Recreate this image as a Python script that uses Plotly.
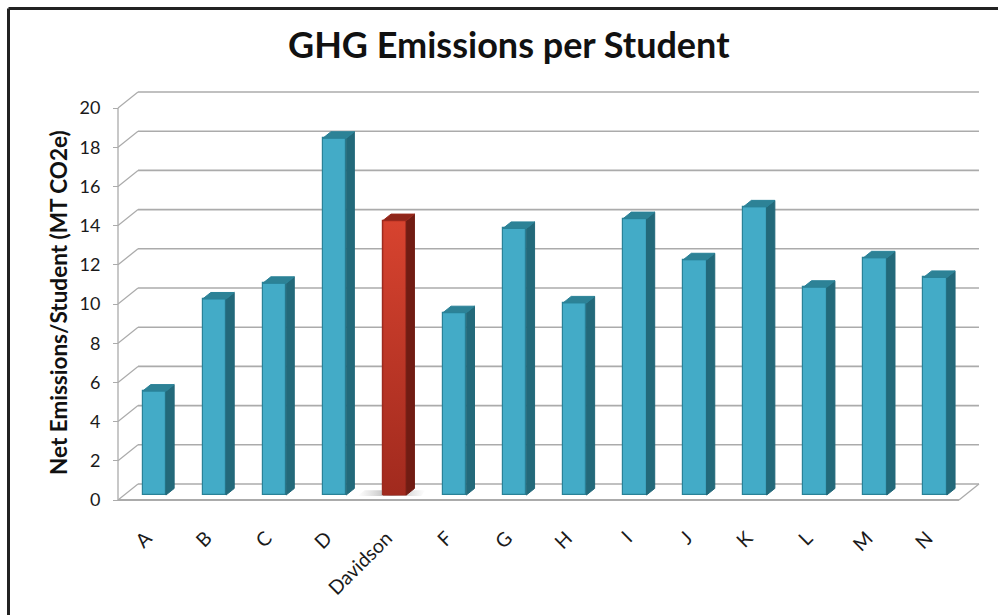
import plotly.graph_objects as go

# ---- data -------------------------------------------------------------
categories = ["A", "B", "C", "D", "Davidson", "F", "G", "H", "I", "J", "K", "L", "M", "N"]
emissions = [5.3, 10.0, 10.8, 18.2, 14.0, 9.3, 13.6, 9.8, 14.1, 12.0, 14.7, 10.6, 12.1, 11.1]
highlight = "Davidson"
y_ticks = list(range(0, 21, 2))

title_text = "GHG Emissions per Student"
y_title = "Net Emissions/Student (MT CO2e)"

# ---- page / pseudo-3D geometry -----------------------------------------
W, H = 998, 615
X0_PX, SLOT_PX = 118, 60.07      # left edge of the front plane, width of one category slot
Y0_PX, UNIT_PX = 500, 19.6       # floor line, pixels per emission unit
DEPTH_X = 20 / SLOT_PX           # box depth expressed in x units
DEPTH_Y = 16 / UNIT_PX           # box depth expressed in y units
BAR_FRONT = 0.31                 # depth at which the bar front faces sit
BAR_DEPTH = 0.41                 # depth of each column
BAR_W = 0.39
N = len(categories)
Y_MAX = y_ticks[-1]

FONT = "Lato"
GRID = "#ABABAB"

TEAL_FRONT, TEAL_SIDE, TEAL_TOP, TEAL_EDGE = "#43ABC7", "#23697A", "#2D8296", "#2A8298"
RED_SIDE, RED_TOP, RED_EDGE = "#711C13", "#8F261A", "#9C2A1E"


def proj(x, v, d):
    """Oblique projection of (slot position, value, depth) into axis units."""
    return x + DEPTH_X * d, v + DEPTH_Y * d


fig = go.Figure()

# back wall, side wall and floor outline
shapes = []
for t in y_ticks:
    xa, ya = proj(0, t, 1)
    xb, yb = proj(N, t, 1)
    shapes.append(dict(type="line", xref="x", yref="y", x0=xa, y0=ya, x1=xb, y1=yb,
                       line=dict(color=GRID, width=1.6), layer="below"))
    xf, yf = proj(0, t, 0)
    shapes.append(dict(type="line", xref="x", yref="y", x0=xf, y0=yf, x1=xa, y1=ya,
                       line=dict(color=GRID, width=1.3), layer="below"))
shapes.append(dict(type="line", xref="x", yref="y", x0=0, y0=0, x1=0, y1=Y_MAX,
                   line=dict(color=GRID, width=1.3), layer="below"))
shapes.append(dict(type="line", xref="x", yref="y", x0=0, y0=0, x1=N, y1=0,
                   line=dict(color=GRID, width=1.8), layer="below"))
xr, yr = proj(N, 0, 1)
shapes.append(dict(type="line", xref="x", yref="y", x0=N, y0=0, x1=xr, y1=yr,
                   line=dict(color=GRID, width=1.3), layer="below"))

# chart frame: only its top and left edges fall inside the page
FRAME = dict(color="#222222", width=3)
shapes.append(dict(type="line", xref="paper", yref="paper",
                   x0=8.5 / W, x1=1, y0=1 - 8.5 / H, y1=1 - 8.5 / H, line=FRAME, layer="above"))
shapes.append(dict(type="line", xref="paper", yref="paper",
                   x0=8.5 / W, x1=8.5 / W, y0=0, y1=1 - 8.5 / H, line=FRAME, layer="above"))

# ---- columns ---------------------------------------------------------------
base = DEPTH_Y * BAR_FRONT
centers = [i + 0.5 + DEPTH_X * BAR_FRONT for i in range(N)]
ddx, ddy = DEPTH_X * BAR_DEPTH, DEPTH_Y * BAR_DEPTH


def faces(indices):
    sx, sy, tx, ty = [], [], [], []
    for i in indices:
        x0 = centers[i] - BAR_W / 2
        x1 = centers[i] + BAR_W / 2
        top = base + emissions[i]
        sx += [x1, x1, x1 + ddx, x1 + ddx, x1, None]
        sy += [base, top, top + ddy, base + ddy, base, None]
        tx += [x0, x1, x1 + ddx, x0 + ddx, x0, None]
        ty += [top, top, top + ddy, top + ddy, top, None]
    return sx, sy, tx, ty


hi = categories.index(highlight)
normal = [i for i in range(N) if i != hi]

# soft floor shadow behind the highlighted column
hx0 = centers[hi] - BAR_W / 2
fig.add_trace(go.Scatter(
    x=[hx0 - 0.42, hx0 + BAR_W + 0.25, hx0 + BAR_W + 0.32, hx0 - 0.3, hx0 - 0.42],
    y=[base - 0.05, base - 0.05, base + 0.25, base + 0.25, base - 0.05],
    fill="toself", mode="none", hoverinfo="skip",
    fillgradient=dict(type="horizontal",
                      colorscale=[[0, "rgba(150,150,150,0)"], [0.5, "rgba(110,110,110,0.55)"],
                                  [1, "rgba(150,150,150,0)"]]),
    showlegend=False))

colors = [TEAL_FRONT] * N
edges = [TEAL_EDGE] * N
colors[hi] = "#C0362A"
edges[hi] = RED_EDGE
fig.add_trace(go.Bar(x=centers, y=emissions, base=base, width=BAR_W,
                     marker=dict(color=colors, line=dict(color=edges, width=1.2)),
                     hoverinfo="skip", showlegend=False))

# red gradient on the highlighted front face
fig.add_trace(go.Scatter(
    x=[hx0, hx0 + BAR_W, hx0 + BAR_W, hx0, hx0],
    y=[base, base, base + emissions[hi], base + emissions[hi], base],
    fill="toself", mode="lines", line=dict(color=RED_EDGE, width=1),
    fillgradient=dict(type="vertical", colorscale=[[0, "#A12A1E"], [1, "#D7432F"]]),
    hoverinfo="skip", showlegend=False))

sx, sy, tx, ty = faces(normal)
fig.add_trace(go.Scatter(x=sx, y=sy, fill="toself", fillcolor=TEAL_SIDE, mode="lines",
                         line=dict(color=TEAL_SIDE, width=1), hoverinfo="skip", showlegend=False))
fig.add_trace(go.Scatter(x=tx, y=ty, fill="toself", fillcolor=TEAL_TOP, mode="lines",
                         line=dict(color=TEAL_EDGE, width=1), hoverinfo="skip", showlegend=False))
sx, sy, tx, ty = faces([hi])
fig.add_trace(go.Scatter(x=sx, y=sy, fill="toself", fillcolor=RED_SIDE, mode="lines",
                         line=dict(color=RED_SIDE, width=1), hoverinfo="skip", showlegend=False))
fig.add_trace(go.Scatter(x=tx, y=ty, fill="toself", fillcolor=RED_TOP, mode="lines",
                         line=dict(color=RED_EDGE, width=1), hoverinfo="skip", showlegend=False))

# ---- layout ------------------------------------------------------------------
fig.update_layout(
    width=W, height=H,
    margin=dict(l=0, r=0, t=0, b=0),
    paper_bgcolor="white", plot_bgcolor="white",
    showlegend=False, bargap=0,
    font=dict(family=FONT, color="#1a1a1a"),
    xaxis=dict(range=[-X0_PX / SLOT_PX, (W - X0_PX) / SLOT_PX], domain=[0, 1],
               anchor="free", position=1 - Y0_PX / H,
               tickmode="array", tickvals=[i + 0.47 for i in range(N)], ticktext=categories,
               tickangle=-45, ticks="", showgrid=False, zeroline=False, showline=False,
               ticklabelstandoff=22, tickfont=dict(size=19.5, family=FONT, color="#1a1a1a"),
               fixedrange=True),
    yaxis=dict(range=[-(H - Y0_PX) / UNIT_PX, Y0_PX / UNIT_PX], domain=[0, 1],
               anchor="free", position=X0_PX / W,
               tickmode="array", tickvals=y_ticks, ticks="outside", ticklen=5,
               tickcolor=GRID, tickwidth=1.3, ticklabelstandoff=9,
               showgrid=False, zeroline=False, showline=False,
               tickfont=dict(size=18, family=FONT, color="#1a1a1a"), fixedrange=True),
    shapes=shapes,
    annotations=[
        dict(text=f"<b>{title_text}</b>", xref="paper", yref="paper",
             x=509 / W, y=1 - 44 / H, xanchor="center", yanchor="middle",
             showarrow=False, font=dict(size=36, family=FONT, color="#111111")),
        dict(text=f"<b>{y_title}</b>", xref="paper", yref="paper",
             x=58 / W, y=1 - 303 / H, xanchor="center", yanchor="middle", textangle=-90,
             showarrow=False, font=dict(size=22.5, family=FONT, color="#111111")),
    ],
)

fig.write_html("out.html")
